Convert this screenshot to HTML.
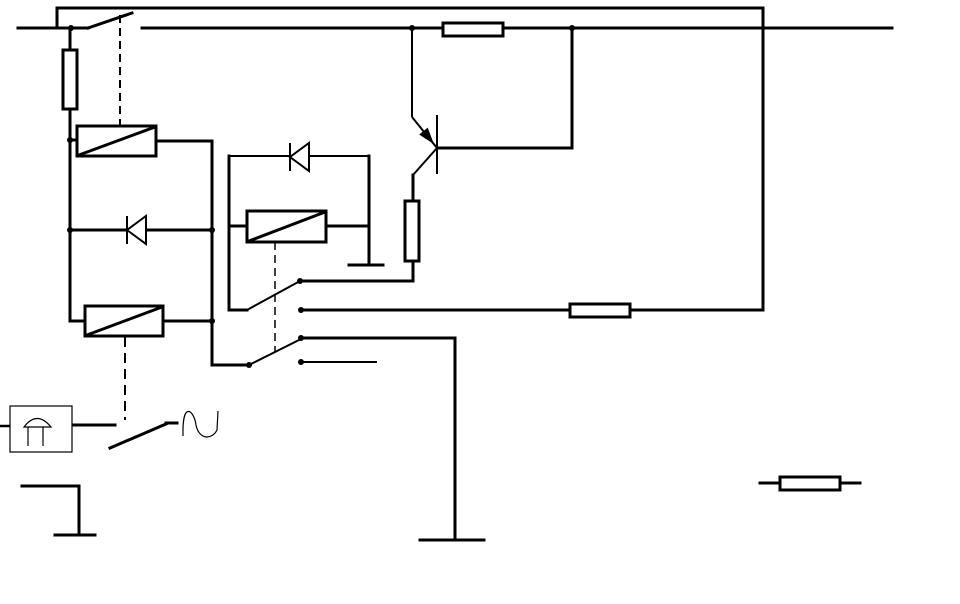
<!DOCTYPE html>
<html><head><meta charset="utf-8"><style>html,body{margin:0;padding:0;background:#fff}svg{display:block}</style></head>
<body>
<svg width="960" height="604" viewBox="0 0 960 604" xmlns="http://www.w3.org/2000/svg">
<rect width="960" height="604" fill="#fff"/>
<g stroke="#000" stroke-width="3" fill="none" stroke-linecap="square">
<polyline points="57,28 57,8 763,8 763,310"/>
<line x1="18" y1="28" x2="88" y2="28"/>
<line x1="88" y1="28" x2="132" y2="13"/>
<line x1="142" y1="28" x2="892" y2="28"/>
<rect x="443" y="23" width="60" height="13" fill="#fff"/>
<line x1="70" y1="28" x2="70" y2="321"/>
<rect x="63" y="50" width="14" height="59" fill="#fff"/>
<line x1="70" y1="140" x2="77" y2="140"/>
<rect x="77" y="126" width="79" height="30" fill="#fff"/>
<line x1="79" y1="155" x2="155" y2="127"/>
<polyline points="156,141 212,141 212,365 249,365"/>
<line x1="70" y1="230" x2="212" y2="230"/>
<polyline points="70,321 85,321"/>
<rect x="85" y="306" width="78" height="30" fill="#fff"/>
<line x1="87" y1="335" x2="162" y2="307"/>
<line x1="163" y1="321" x2="212" y2="321"/>
<line x1="303" y1="338" x2="455" y2="338"/>
<line x1="455" y1="338" x2="455" y2="540"/>
<line x1="420" y1="540" x2="484" y2="540"/>
<polyline points="369,156 369,265"/>
<line x1="349" y1="265" x2="383" y2="265"/>
<polyline points="229,310 229,156"/>
<line x1="229" y1="310" x2="247" y2="310"/>
<line x1="229" y1="226" x2="247" y2="226"/>
<rect x="247" y="211" width="79" height="31" fill="#fff"/>
<line x1="249" y1="241" x2="325" y2="212"/>
<line x1="326" y1="226" x2="369" y2="226"/>
<polyline points="300,281 413,281 413,261"/>
<line x1="301" y1="310" x2="763" y2="310"/>
<rect x="570" y="304" width="60" height="13" fill="#fff"/>
<line x1="572" y1="28" x2="572" y2="148"/>
<line x1="437" y1="148" x2="572" y2="148"/>
<line x1="413" y1="175" x2="413" y2="201"/>
<rect x="405" y="201" width="14" height="60" fill="#fff"/>
<polyline points="22,486 79,486 79,535"/>
<line x1="55" y1="535" x2="95" y2="535"/>
<line x1="73" y1="425" x2="115" y2="425"/>
<line x1="110" y1="448" x2="166" y2="424"/>
<line x1="166" y1="423" x2="177" y2="423"/>
<line x1="760" y1="483" x2="860" y2="483"/>
<rect x="780" y="477" width="60" height="13" fill="#fff"/>
</g>
<g stroke="#000" stroke-width="2" fill="none">
<line x1="412" y1="28" x2="412" y2="117"/>
<line x1="412" y1="117" x2="437" y2="148"/>
<line x1="437" y1="148" x2="413" y2="175"/>
<line x1="437" y1="115" x2="437" y2="174"/>
<line x1="369" y1="156" x2="229" y2="156"/>
<line x1="247" y1="310" x2="300" y2="281"/>
<line x1="249" y1="365" x2="303" y2="338"/>
<line x1="301" y1="362" x2="377" y2="362"/>
<line x1="127" y1="216" x2="127" y2="244"/>
<polygon points="146,216 146,244 127,230" fill="#fff"/>
<line x1="290" y1="143" x2="290" y2="171"/>
<polygon points="309,143 309,171 290,157" fill="#fff"/>
<line x1="120" y1="15" x2="120" y2="126" stroke-dasharray="8,5"/>
<line x1="125" y1="337" x2="125" y2="420" stroke-dasharray="10,6"/>
<line x1="275" y1="242" x2="275" y2="352" stroke-dasharray="8,5" stroke-width="1.5"/>
</g>
<polygon points="433,143 427.5,128.5 420,134.5" fill="#000" stroke="#000" stroke-width="1"/>
<g fill="#000">
<circle cx="71" cy="28" r="3"/><circle cx="412" cy="28" r="3"/><circle cx="572" cy="28" r="3"/>
<circle cx="70" cy="140" r="3"/><circle cx="70" cy="230" r="3"/><circle cx="212" cy="230" r="3"/>
<circle cx="212" cy="321" r="3"/><circle cx="249" cy="365" r="3"/><circle cx="301" cy="338" r="3"/>
<circle cx="301" cy="362" r="3"/><circle cx="300" cy="281" r="3"/><circle cx="301" cy="310" r="3"/>
</g>
<g stroke="#000" stroke-width="1.2" fill="none">
<rect x="10" y="406" width="62" height="46"/>
<line x1="0" y1="426" x2="10" y2="426" stroke-width="2.5"/>
<path d="M24,427 Q37,410 51,427 Z"/>
<line x1="28" y1="427" x2="28" y2="446"/>
<line x1="43" y1="427" x2="43" y2="446"/>
<path d="M183,436 C182,400 194,410 196,425 C199,440 212,440 217,430 L218,411"/>
</g>
</svg>
</body></html>
